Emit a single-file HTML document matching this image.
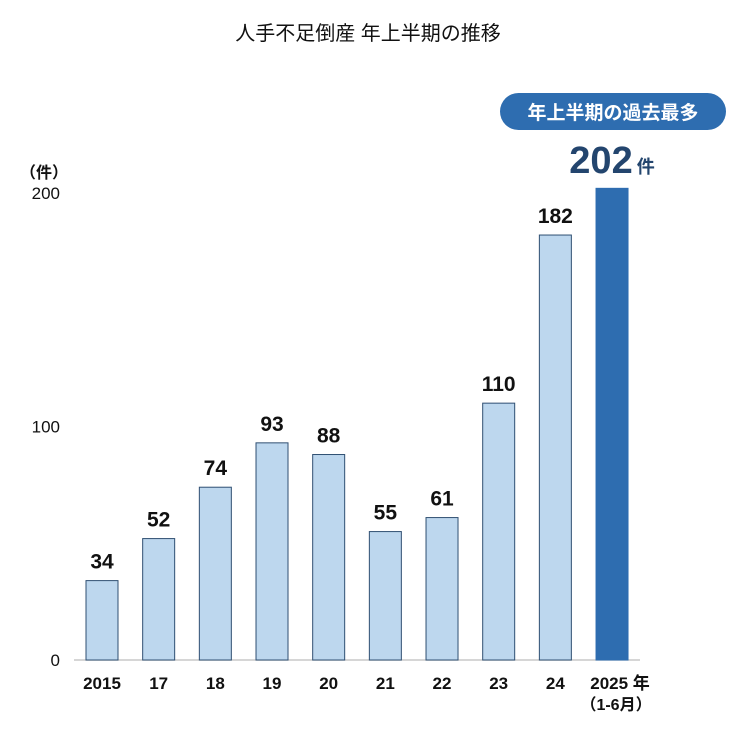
<!DOCTYPE html>
<html><head><meta charset="utf-8"><style>
body{margin:0;background:#fff;}
svg text{font-family:"Liberation Sans","Noto Sans CJK JP",sans-serif;}
</style></head><body>
<svg width="736" height="733" viewBox="0 0 736 733">
<text x="368" y="40" text-anchor="middle" font-size="20" fill="#111">人手不足倒産 年上半期の推移</text>
<text x="20" y="178" font-size="16" font-weight="bold" fill="#111">（件）</text>
<g id="yticks"></g>
<line x1="74" y1="660" x2="640" y2="660" stroke="#c8c8c8" stroke-width="1.5"/>
<g id="bars"></g>
<rect x="500" y="93" width="226" height="37" rx="18.5" fill="#2e6db0"/>
<text x="613" y="119" text-anchor="middle" font-size="19" font-weight="bold" fill="#fff">年上半期の過去最多</text>
<text x="612" y="173" text-anchor="middle" font-size="38" font-weight="bold" fill="#23456e">202<tspan font-size="18" dx="4">件</tspan></text>
</svg>
<script>
const categories=["2015","17","18","19","20","21","22","23","24","2025"];
const values=[34,52,74,93,88,55,61,110,182,202];
const yTicks=[0,100,200];
const NS="http://www.w3.org/2000/svg";
const y=v=>660-v*2.335;
const xc=i=>102+i*56.67;
const bars=document.getElementById('bars');
const yt=document.getElementById('yticks');
yTicks.forEach(t=>{
 const e=document.createElementNS(NS,'text');
 
 
 e.setAttribute('x',60);e.setAttribute('y',y(t)+6);e.setAttribute('text-anchor','end');
 e.setAttribute('font-size','17');e.setAttribute('fill','#111');e.textContent=t;yt.appendChild(e);
});
categories.forEach((c,i)=>{
 const last=i===categories.length-1;
 const r=document.createElementNS(NS,'rect');
 
 
 r.setAttribute('x',xc(i)-16);r.setAttribute('y',y(values[i]));r.setAttribute('width',32);
 r.setAttribute('height',660-y(values[i]));
 r.setAttribute('fill',last?'#2e6db0':'#bdd7ee');r.setAttribute('stroke',last?'#2e6db0':'#2f4f72');r.setAttribute('stroke-width','1');
 bars.appendChild(r);
 if(!last){
  const v=document.createElementNS(NS,'text');
  
  
  v.setAttribute('x',xc(i));v.setAttribute('y',y(values[i])-12);v.setAttribute('text-anchor','middle');
  v.setAttribute('font-size','21');v.setAttribute('font-weight','bold');v.setAttribute('fill','#111');v.textContent=values[i];bars.appendChild(v);
 }
 const l=document.createElementNS(NS,'text');
 
 
 l.setAttribute('x',last?xc(i)+8:xc(i));l.setAttribute('y',689);l.setAttribute('text-anchor','middle');
 l.setAttribute('font-size','17');l.setAttribute('font-weight','bold');l.setAttribute('fill','#111');
 l.textContent=last?c+' 年':c;bars.appendChild(l);
 if(last){
  const s=document.createElementNS(NS,'text');
  
  
  s.setAttribute('x',xc(i)+4);s.setAttribute('y',710);s.setAttribute('text-anchor','middle');
  s.setAttribute('font-size','16');s.setAttribute('font-weight','bold');s.setAttribute('fill','#111');
  s.textContent='（1-6月）';bars.appendChild(s);
 }
});
</script>
</body></html>
